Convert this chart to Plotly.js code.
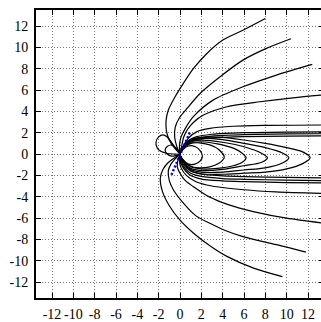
<!DOCTYPE html>
<html>
<head>
<meta charset="utf-8">
<script src="https://cdn.plot.ly/plotly-3.0.1.min.js"></script>
<style>html,body{margin:0;padding:0;overflow:hidden;background:#fff}</style>
</head>
<body>
<div id="chart"></div>
<script>
// Tick values
const tickValues = [-12,-10,-8,-6,-4,-2,0,2,4,6,8,10,12];

// Northern open field lines
const north1 = [[0,0],[-0.5,0.55],[-1.0,1.3],[-1.28,2.2],[-1.3,3.2],[-1.1,4.1],[-0.5,5.3],[0.3,6.6],[1.25,8.0],[2.5,9.4],[4.05,10.7],[5.9,11.6],[8.0,12.7]];
const north2 = [[0,0],[-0.3,0.7],[-0.5,1.6],[-0.45,2.5],[-0.05,3.4],[0.6,4.2],[1.9,5.7],[3.7,7.2],[5.9,8.8],[8.1,9.9],[10.4,10.8]];
const north3 = [[0,0],[-0.05,0.8],[0.1,1.6],[0.5,2.4],[1.25,3.5],[3.1,5.05],[5.9,6.3],[9.05,7.4],[12.4,8.4]];
const north4 = [[0,0],[0.15,0.7],[0.35,1.6],[0.7,2.3],[1.3,3.0],[2.2,3.65],[4.4,4.43],[7.5,4.9],[10.6,5.27],[13.6,5.55]];
const north5 = [[0,0],[0.3,0.7],[0.8,1.5],[1.6,2.1],[2.8,2.4],[5,2.6],[8,2.68],[13.6,2.72]];

// Upper tail lines
const tailUp1 = [[0,0],[0.25,0.6],[0.7,1.2],[1.5,1.6],[3,1.85],[6,2.0],[10,2.06],[13.6,2.08]];
const tailUp2 = [[0,0],[0.25,0.55],[0.7,1.1],[1.5,1.45],[3,1.68],[6,1.82],[10,1.88],[13.6,1.9]];
const tailUp3 = [[0,0],[0.25,0.5],[0.7,1.0],[1.5,1.35],[3,1.5],[6,1.62],[10,1.68],[13.6,1.7]];

// Lower tail lines
const tailLo1 = [[0,0],[0.1,-0.5],[0.4,-1.1],[1,-1.6],[2,-1.9],[4,-2.05],[6,-2.12],[10,-2.2],[13.6,-2.25]];
const tailLo2 = [[0,0],[0.05,-0.55],[0.35,-1.2],[1,-1.8],[2,-2.1],[4,-2.3],[6,-2.37],[10,-2.45],[13.6,-2.5]];
const tailLo3 = [[0,0],[0,-0.6],[0.3,-1.3],[0.9,-1.95],[2,-2.35],[4,-2.52],[6,-2.59],[10,-2.68],[13.6,-2.72]];

// Closed nightside loops
const loopA = [[0,0],[0.3,0.45],[0.8,0.75],[1.4,0.7],[1.9,0.3],[2.1,-0.2],[1.9,-0.65],[1.4,-0.95],[0.8,-0.95],[0.3,-0.55],[0,0]];
const loopB = [[0,0],[0.3,0.5],[0.9,0.95],[1.8,1.05],[2.8,0.85],[3.6,0.45],[4.15,-0.3],[3.6,-0.9],[2.8,-1.2],[1.8,-1.3],[0.9,-1.1],[0.3,-0.6],[0,0]];
const loopC = [[0,0],[0.3,0.55],[0.9,1.0],[2,1.15],[3.5,0.95],[5,0.55],[5.8,0.1],[6.2,-0.35],[5.8,-0.8],[5,-1.1],[3.5,-1.35],[2,-1.4],[1,-1.2],[0.4,-0.7],[0,0]];
const loopD = [[0,0],[0.3,0.6],[0.9,1.1],[2,1.3],[4,1.1],[6,0.68],[7.6,0.1],[8.2,-0.35],[7.6,-0.8],[6,-1.1],[4,-1.45],[2,-1.55],[1,-1.35],[0.4,-0.8],[0,0]];
const loopE = [[0,0],[0.3,0.65],[0.9,1.2],[2,1.45],[4,1.35],[6,1.0],[8,0.6],[9.6,0.1],[10.2,-0.35],[9.6,-0.85],[8,-1.3],[6,-1.5],[4,-1.7],[2,-1.7],[1,-1.45],[0.4,-0.85],[0,0]];
const loopF = [[0,0],[0.3,0.7],[0.9,1.3],[2,1.55],[4,1.55],[6,1.31],[8,1.0],[10,0.6],[11.5,0.2],[12.2,-0.35],[11.5,-0.9],[10,-1.4],[8,-1.7],[6,-1.8],[4,-1.9],[2,-1.85],[1,-1.55],[0.4,-0.9],[0,0]];

// Southern open field lines
const south1 = [[0,0],[-0.5,-0.35],[-1.1,-0.8],[-1.6,-1.45],[-1.85,-2.3],[-1.65,-3.5],[-1.0,-4.85],[0,-6.2],[1.25,-7.4],[2.8,-8.6],[4.4,-9.6],[6.9,-10.7],[9.6,-11.5]];
const south2 = [[0,0],[-0.45,-0.45],[-0.85,-0.95],[-1.1,-1.6],[-1.0,-2.5],[-0.6,-3.4],[0.4,-4.7],[1.5,-5.8],[2.8,-6.5],[4.3,-7.2],[5.9,-7.75],[9.05,-8.5],[11.8,-9.2]];
const south3 = [[0,0],[-0.2,-0.6],[-0.25,-1.2],[0,-1.8],[0.5,-2.5],[1.25,-3.06],[2.5,-3.9],[3.74,-4.46],[5.5,-5.05],[6.86,-5.4],[9.98,-6.02],[13.6,-6.5]];
const south4 = [[0,0],[-0.05,-0.6],[0.1,-1.3],[0.6,-2.0],[1.5,-2.6],[3,-3.0],[6,-3.35],[9,-3.55],[13.6,-3.7]];

// Dayside closed loops
const dayLoop1 = [[0,0],[-0.4,0.5],[-0.8,1.1],[-1.2,1.6],[-1.6,1.8],[-2.0,1.6],[-2.25,1.1],[-2.15,0.6],[-1.8,0.25],[-1.2,0.05],[-0.6,0.0],[0,0]];
const dayLoop2 = [[0,0],[-0.4,0.6],[-0.8,0.84],[-1.2,0.7],[-1.4,0.37],[-1.2,0.0],[-0.8,-0.2],[-0.4,-0.15],[0,0]];

// Blue dotted segment
const blueSeg = [[-0.8,-1.95],[0.95,2.1]];

const blackLines = [north1,north2,north3,north4,north5,tailUp1,tailUp2,tailUp3,tailLo1,tailLo2,tailLo3,
  loopA,loopB,loopC,loopD,loopE,loopF,south1,south2,south3,south4,dayLoop1,dayLoop2];

const traces = blackLines.map(pts => ({
  x: pts.map(p => p[0]), y: pts.map(p => p[1]),
  type: 'scatter', mode: 'lines',
  line: {color: '#000', width: 1.2, shape: 'spline', smoothing: 0.8},
  hoverinfo: 'skip', showlegend: false
}));
traces.push({
  x: blueSeg.map(p => p[0]), y: blueSeg.map(p => p[1]),
  type: 'scatter', mode: 'lines',
  line: {color: '#0000ee', width: 2.5, dash: '2px,2px'},
  hoverinfo: 'skip', showlegend: false
});

const axisCommon = {
  range: [-13.5, 13.5],
  tickvals: tickValues,
  ticktext: tickValues.map(String),
  showgrid: true, gridcolor: '#777', griddash: '1px,2px', gridwidth: 1,
  zeroline: false,
  showline: true, linecolor: '#000', linewidth: 2, mirror: 'ticks',
  ticks: 'inside', ticklen: 5, tickcolor: '#000', tickwidth: 1,
  tickfont: {family: 'Liberation Serif', size: 14, color: '#000'},
  fixedrange: true
};

const layout = {
  width: 325, height: 322,
  margin: {l: 36, r: 1, t: 10, b: 24},
  paper_bgcolor: '#fff', plot_bgcolor: '#fff',
  showlegend: false,
  font: {family: 'Liberation Serif'},
  xaxis: Object.assign({}, axisCommon, {ticklabelstandoff: 2}),
  yaxis: Object.assign({}, axisCommon, {ticklabelstandoff: 3})
};

Plotly.newPlot('chart', traces, layout, {staticPlot: true, displayModeBar: false});
</script>
</body>
</html>
